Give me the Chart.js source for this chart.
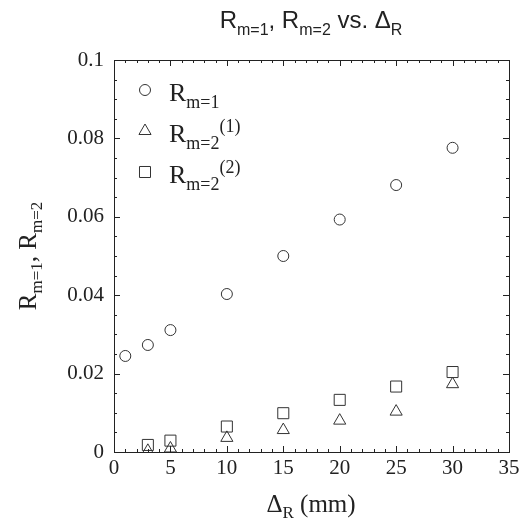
<!DOCTYPE html>
<html>
<head>
<meta charset="utf-8">
<script src="https://cdn.jsdelivr.net/npm/chart.js@4.4.0/dist/chart.umd.min.js"></script>
<style>
    html, body { margin: 0; padding: 0; background: #fff; }
    #wrap { width: 524px; height: 524px; }
</style>
</head>
<body>
<div id="wrap"><canvas id="chart"></canvas></div>
<script>
// data
const deltaR1 = [1, 3, 5, 10, 15, 20, 25, 30];
const rM1 = [0.0245, 0.0273, 0.0311, 0.0403, 0.0500, 0.0593, 0.0681, 0.0776];
const deltaR2 = [3, 5, 10, 15, 20, 25, 30];
const rM2a = [0.0003, 0.0009, 0.0036, 0.0056, 0.0080, 0.0103, 0.0173];
const rM2b = [0.0018, 0.0029, 0.0065, 0.0099, 0.0133, 0.0167, 0.0204];
const xTicks = [0, 5, 10, 15, 20, 25, 30, 35];
const yTicks = [0, 0.02, 0.04, 0.06, 0.08, 0.1];

const INK = '#222';
const SERIF = '"Liberation Serif", "DejaVu Serif", serif';
const SANS = '"Liberation Sans", Arial, sans-serif';

const toPoints = (xs, ys) => xs.map((x, i) => ({ x, y: ys[i] }));

// parts: [text, size, dy, family]
function richWidth(ctx, parts) {
    let w = 0;
    parts.forEach(([t, size, , fam]) => {
        ctx.font = `${size}px ${fam}`;
        w += ctx.measureText(t).width;
    });
    return w;
}

function drawRich(ctx, parts, x, y, align) {
    let cx = x;
    const w = richWidth(ctx, parts);
    if (align === 'center') cx = x - w / 2;
    if (align === 'right') cx = x - w;
    ctx.textBaseline = 'alphabetic';
    ctx.textAlign = 'left';
    parts.forEach(([t, size, dy, fam]) => {
        ctx.font = `${size}px ${fam}`;
        ctx.fillText(t, cx, y + dy);
        cx += ctx.measureText(t).width;
    });
}

const decorPlugin = {
    id: 'decor',
    afterDraw(chart) {
        const { ctx, chartArea: a, scales } = chart;
        const xs = scales.x, ys = scales.y;
        ctx.save();
        ctx.strokeStyle = INK;
        ctx.lineWidth = 1;
        ctx.strokeRect(a.left + 0.5, a.top + 0.5, a.right - a.left, a.bottom - a.top);

        // inward ticks on all four sides
        ctx.beginPath();
        for (let v = 0; v <= 35; v++) {
            const px = Math.round(xs.getPixelForValue(v)) + 0.5;
            const len = v % 5 === 0 ? 6 : 3;
            ctx.moveTo(px, a.bottom); ctx.lineTo(px, a.bottom - len);
            ctx.moveTo(px, a.top); ctx.lineTo(px, a.top + len);
        }
        for (let i = 0; i <= 20; i++) {
            const py = Math.round(ys.getPixelForValue(i * 0.005)) + 0.5;
            const len = i % 4 === 0 ? 6 : 3;
            ctx.moveTo(a.left, py); ctx.lineTo(a.left + len, py);
            ctx.moveTo(a.right, py); ctx.lineTo(a.right - len, py);
        }
        ctx.stroke();

        ctx.fillStyle = INK;
        // title
        drawRich(ctx, [
            ['R', 24, 0, SANS], ['m=1', 16, 7, SANS], [', R', 24, 0, SANS], ['m=2', 16, 7, SANS],
            [' vs. Δ', 24, 0, SANS], ['R', 16, 7, SANS]
        ], 311, 28, 'center');

        // x axis title
        drawRich(ctx, [['Δ', 25, 0, SERIF], ['R', 17, 6, SERIF], [' (mm)', 25, 0, SERIF]], 311, 512, 'center');

        // y axis title
        ctx.save();
        ctx.translate(36, 256);
        ctx.rotate(-Math.PI / 2);
        drawRich(ctx, [['R', 25, 0, SERIF], ['m=1', 17, 6, SERIF], [', R', 25, 0, SERIF], ['m=2', 17, 6, SERIF]], 0, 0, 'center');
        ctx.restore();

        // legend
        const labels = [
            [['R', 26, 0, SERIF], ['m=1', 18, 7, SERIF]],
            [['R', 26, 0, SERIF], ['m=2', 18, 7, SERIF], ['(1)', 18, -10, SERIF]],
            [['R', 26, 0, SERIF], ['m=2', 18, 7, SERIF], ['(2)', 18, -10, SERIF]]
        ];
        chart.data.datasets.forEach((ds, i) => {
            const ly = 90 + i * 41;
            ctx.strokeStyle = ds.borderColor;
            ctx.fillStyle = 'rgba(0,0,0,0)';
            ctx.lineWidth = ds.borderWidth;
            Chart.helpers.drawPoint(ctx, { pointStyle: ds.pointStyle, radius: ds.pointRadius, rotation: 0, borderWidth: 1 }, 145, ly);
            ctx.fillStyle = INK;
            drawRich(ctx, labels[i], 169, ly + 11, 'left');
        });
        ctx.restore();
    }
};

const pointStyleBase = {
    showLine: false,
    borderColor: '#333',
    backgroundColor: 'rgba(0,0,0,0)',
    borderWidth: 1
};

new Chart(document.getElementById('chart'), {
    type: 'scatter',
    data: {
        datasets: [
            { ...pointStyleBase, label: 'R m=1', data: toPoints(deltaR1, rM1), pointStyle: 'circle', pointRadius: 5.5 },
            { ...pointStyleBase, label: 'R m=2 (1)', data: toPoints(deltaR2, rM2a), pointStyle: 'triangle', pointRadius: 7 },
            { ...pointStyleBase, label: 'R m=2 (2)', data: toPoints(deltaR2, rM2b), pointStyle: 'rect', pointRadius: 7.8 }
        ]
    },
    options: {
        responsive: true,
        maintainAspectRatio: false,
        animation: false,
        layout: { padding: { top: 60, right: 15, left: 0, bottom: 0 } },
        plugins: {
            legend: { display: false },
            title: { display: false },
            tooltip: { enabled: false }
        },
        scales: {
            x: {
                type: 'linear',
                min: 0,
                max: 35,
                afterFit(scale) { scale.height = 72; },
                afterBuildTicks(scale) { scale.ticks = xTicks.map(value => ({ value })); },
                grid: { display: false, drawTicks: false },
                border: { display: false },
                ticks: { color: INK, padding: 4, font: { family: SERIF, size: 21 } }
            },
            y: {
                type: 'linear',
                min: 0,
                max: 0.1,
                afterFit(scale) { scale.width = 114; },
                afterBuildTicks(scale) { scale.ticks = yTicks.map(value => ({ value })); },
                grid: { display: false, drawTicks: false },
                border: { display: false },
                ticks: {
                    color: INK,
                    padding: 10,
                    font: { family: SERIF, size: 21 },
                    callback: v => String(Number(v.toFixed(3)))
                }
            }
        }
    },
    plugins: [decorPlugin]
});
</script>
</body>
</html>
